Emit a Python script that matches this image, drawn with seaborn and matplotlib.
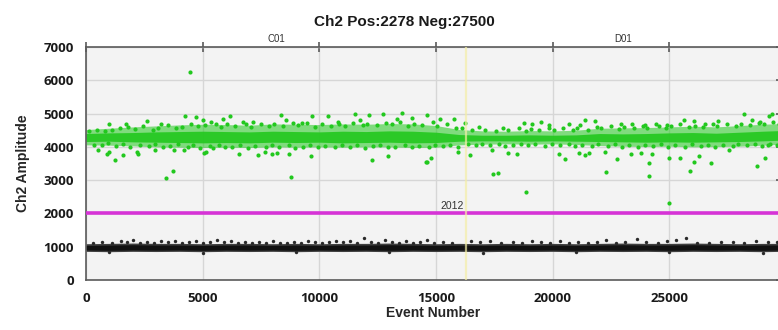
import numpy as np
import pandas as pd
import matplotlib
matplotlib.use("Agg")
import matplotlib.pyplot as plt
import seaborn as sns

# ---------------- data ----------------
title_text = "Ch2 Pos:2278 Neg:27500"
n_pos, n_neg = 2278, 27500
threshold = 2012
well_names = ["C01", "D01"]
well_boundary = 16290
x_ticks = [0, 5000, 10000, 15000, 20000, 25000]
y_ticks = [0, 1000, 2000, 3000, 4000, 5000, 6000, 7000]

# spread of the two droplet clusters (envelopes read every 1000 events)
core_event = [0, 1000, 2000, 3000, 4000, 5000, 6000, 7000, 8000, 9000, 10000,
              11000, 12000, 13000, 14000, 15000, 16000, 17000, 18000, 19000, 20000,
              21000, 22000, 23000, 24000, 25000, 26000, 27000, 28000, 29000, 29778]
pos_outer_low = [4060, 4050, 4030, 4000, 3990, 3980, 3990, 3980, 4000, 3990, 4000,
                 3990, 4000, 4000, 3980, 3990, 4060, 4080, 4090, 4080, 4090,
                 4070, 4040, 4020, 4010, 4020, 4000, 4010, 4020, 4050, 4080]
pos_outer_high = [4520, 4560, 4600, 4630, 4660, 4680, 4670, 4650, 4690, 4680, 4670,
                  4690, 4680, 4700, 4690, 4640, 4520, 4480, 4470, 4490, 4480,
                  4500, 4560, 4570, 4580, 4600, 4620, 4600, 4640, 4680, 4700]
pos_core_low = [4160, 4170, 4150, 4140, 4130, 4120, 4130, 4120, 4140, 4130, 4140,
                4120, 4130, 4140, 4120, 4130, 4170, 4180, 4180, 4170, 4180,
                4170, 4160, 4150, 4140, 4150, 4140, 4150, 4160, 4180, 4200]
pos_core_high = [4400, 4420, 4430, 4450, 4460, 4470, 4460, 4450, 4470, 4460, 4450,
                 4470, 4460, 4480, 4470, 4440, 4370, 4350, 4350, 4360, 4350,
                 4360, 4400, 4390, 4400, 4420, 4430, 4410, 4440, 4470, 4490]
neg_core_low = [860, 850, 860, 855, 860, 850, 860, 855, 860, 850, 860,
                855, 860, 850, 860, 855, 860, 850, 860, 855, 860,
                850, 860, 855, 860, 850, 860, 855, 860, 850, 860]
neg_core_high = [1090, 1100, 1110, 1100, 1100, 1090, 1100, 1100, 1090, 1100, 1090,
                 1100, 1100, 1110, 1100, 1090, 1100, 1090, 1100, 1090, 1100,
                 1090, 1100, 1110, 1100, 1100, 1110, 1100, 1090, 1100, 1100]

# individually visible positive droplets (event, amplitude)
pos_event = [4450, 3430, 3720, 8790, 1240, 12260, 14620, 17450, 17650, 18870, 22280,
             24140, 24120, 24960, 25900, 26070, 26800, 28770,
             530, 890, 990, 1570, 2190, 2210, 2970, 3760, 4220, 5050, 5150, 5430, 6550, 7360,
             7650, 7960, 8180, 8680, 9650, 12960, 14580, 14780,
             15940, 16440, 17400, 18080, 18470, 20250, 20510, 21140, 21400, 21560, 22250,
             22750, 23330, 23800, 24230, 24970, 25470, 26260, 27540, 29090, 29210,
             1000, 1720, 2600, 3220, 4250, 4720, 5000, 5360, 5860, 6170, 6720, 7150,
             8350, 8580, 9250, 9680, 10390, 10780, 11510, 11750, 12110, 12720, 13320, 13560, 13970, 14610,
             15180, 15750, 16250, 18750, 19110, 19510, 19820, 20680, 21180, 21370, 21830,
             22940, 23400, 23940, 24430, 24900, 25610, 26040, 26540, 27090, 28190, 28540, 28860, 29260, 29400,
             120, 350, 480, 700, 820, 950, 1120, 1300, 1450, 1600, 1800, 1900,
             2080, 2300, 2450, 2700, 2850, 2950, 3100, 3300, 3500, 3600, 3850, 3950,
             4100, 4350, 4500, 4600, 4800, 4900, 5100, 5300, 5550, 5700, 5800, 5950,
             6050, 6250, 6400, 6600, 6850, 6950, 7050, 7250, 7500, 7700, 7850, 7950,
             8050, 8250, 8450, 8700, 8850, 8950, 9100, 9300, 9450, 9600, 9800, 9950,
             10100, 10250, 10500, 10650, 10850, 10950, 11100, 11300, 11450, 11600, 11850, 11950,
             12050, 12300, 12450, 12600, 12850, 12950, 13100, 13250, 13450, 13650, 13800, 13950,
             14050, 14250, 14400, 14700, 14850, 14950, 15050, 15300, 15450, 15600, 15850, 15950,
             16100, 16350, 16550, 16700, 16850, 16950, 17100, 17300, 17550, 17700, 17850, 17950,
             18100, 18300, 18550, 18650, 18850, 18950, 19050, 19250, 19400, 19650, 19850, 19950,
             20050, 20300, 20450, 20700, 20850, 20950, 21050, 21250, 21500, 21700, 21900, 21950,
             22050, 22350, 22500, 22650, 22850, 22950, 23050, 23250, 23500, 23650, 23850, 23950,
             24050, 24300, 24550, 24650, 24850, 24950, 25050, 25250, 25450, 25650, 25850, 25950,
             26100, 26350, 26450, 26650, 26850, 26950, 27050, 27300, 27450, 27700, 27850, 27950,
             28050, 28300, 28450, 28650, 28850, 28950, 29050, 29300, 29450, 29600, 29700]
pos_amp = [6250, 3070, 3270, 3090, 3600, 3620, 3540, 3180, 3210, 2640, 3240,
           3510, 3120, 2310, 3270, 3560, 3510, 3420,
           3900, 3800, 3840, 3750, 3850, 3800, 3920, 3900, 3900, 3820, 3850, 3970, 3800, 3750,
           3850, 3780, 3820, 3800, 3720, 3720, 3550, 3680,
           3850, 3750, 3920, 3820, 3800, 3780, 3650, 3820, 3750, 3820, 3850,
           3650, 3800, 3820, 3800, 3680, 3680, 3720, 3900, 3680, 4050,
           4680, 4680, 4780, 4700, 4920, 4900, 4800, 4750, 4850, 4920, 4750, 4750,
           4950, 4800, 4720, 4920, 4920, 4750, 4980, 4800, 4950, 4980, 4850, 5020, 4880, 4950,
           4850, 4850, 4720, 4720, 4680, 4750, 4650, 4680, 4650, 4800, 4780,
           4700, 4680, 4650, 4680, 4650, 4820, 4780, 4680, 4780, 4980, 4800, 4750, 4920, 4980,
           4480, 4060, 4520, 4050, 4470, 4110, 4520, 4030, 4560, 4080, 4600, 4000,
           4550, 4050, 4620, 4020, 4500, 4090, 4580, 4000, 4650, 4040, 4560, 4100,
           4600, 4000, 4700, 4060, 4620, 3980, 4650, 4020, 4700, 4050, 4600, 3990,
           4680, 4000, 4620, 4060, 4700, 3980, 4600, 4030, 4680, 3990, 4640, 4070,
           4700, 4010, 4620, 4050, 4720, 3980, 4650, 4000, 4720, 4060, 4600, 4010,
           4680, 4040, 4620, 3990, 4700, 4060, 4640, 4000, 4720, 4050, 4660, 3980,
           4700, 4020, 4650, 4060, 4720, 3990, 4680, 4000, 4740, 4060, 4620, 4010,
           4700, 4030, 4660, 3990, 4740, 4050, 4620, 4020, 4700, 4060, 4560, 4000,
           4560, 4080, 4520, 4050, 4600, 4100, 4520, 4060, 4480, 4090, 4560, 4040,
           4500, 4070, 4560, 4100, 4480, 4050, 4540, 4080, 4500, 4040, 4560, 4100,
           4500, 4060, 4580, 4090, 4520, 4030, 4560, 4070, 4520, 4040, 4600, 4090,
           4560, 4030, 4620, 4080, 4540, 4000, 4600, 4050, 4560, 4010, 4620, 4070,
           4560, 4030, 4620, 4080, 4580, 4000, 4620, 4050, 4680, 4010, 4600, 4080,
           4640, 4030, 4600, 4060, 4700, 4000, 4620, 4070, 4680, 4030, 4640, 4090,
           4700, 4060, 4660, 4100, 4720, 4040, 4680, 4100, 4760, 4060, 4700]

# individually visible negative droplets at the fuzzy edges of the dense band
neg_event = [300, 700, 1100, 1500, 1750, 2000, 2300, 2600, 2900, 3200, 3500, 3800, 4100, 4400,
             4700, 5000, 5300, 5600, 5900, 6200, 6500, 6800, 7100, 7400, 7700, 8000, 8300,
             8600, 8900, 9200, 9500, 9800, 10100, 10400, 10700, 11000, 11300, 11600, 11900,
             12200, 12500, 12800, 13100, 13400, 13700, 14000, 14300, 14600, 14900, 15300,
             15700, 16500, 16900, 17300, 17800, 18300, 18700, 19100, 19500, 19900, 20300,
             20700, 21100, 21500, 21900, 22300, 22700, 23100, 23600, 24000, 24500, 24900,
             25300, 25700, 26200, 26700, 27200, 27700, 28200, 28700, 29200, 29600,
             1000, 5000, 9000, 13000, 17000, 21000, 25000, 29000]
neg_amp = [1120, 1140, 1110, 1160, 1130, 1190, 1120, 1150, 1110, 1170, 1130, 1160, 1110, 1140,
           1180, 1120, 1150, 1210, 1130, 1160, 1110, 1140, 1120, 1150, 1110, 1160, 1120,
           1100, 1140, 1110, 1160, 1130, 1120, 1150, 1180, 1130, 1170, 1110, 1250,
           1150, 1120, 1190, 1130, 1110, 1160, 1120, 1140, 1210, 1120, 1140,
           1110, 1160, 1130, 1170, 1120, 1150, 1110, 1160, 1140, 1120, 1160,
           1110, 1130, 1120, 1150, 1190, 1120, 1140, 1220, 1130, 1120, 1160,
           1200, 1260, 1120, 1110, 1130, 1150, 1120, 1160, 1140, 1130,
           830, 820, 840, 830, 820, 840, 830, 820]

pos_df = pd.DataFrame({"Event Number": pos_event, "Ch2 Amplitude": pos_amp})
neg_df = pd.DataFrame({"Event Number": neg_event, "Ch2 Amplitude": neg_amp})

# ---------------- style ----------------
sns.set_theme(style="white")
plt.rcParams["font.family"] = ["Liberation Sans", "DejaVu Sans"]

GREEN = "#22c81e"
BLACK = "#1e1e1e"
total_events = n_pos + n_neg

fig = plt.figure(figsize=(7.78, 3.30), dpi=100)
ax = fig.add_axes([86 / 778, 50 / 330, 695 / 778, 233 / 330])
ax.set_facecolor("#f3f3f3")

ax.set_xlim(0, total_events)
ax.set_ylim(0, 7000)
ax.set_xticks(x_ticks)
ax.set_yticks(y_ticks)
ax.grid(True, color="#d6d6d6", linewidth=1.0)
ax.set_axisbelow(True)

# negative cluster
ax.fill_between(core_event, neg_core_low, neg_core_high, color="#404040", linewidth=0, zorder=2)
ax.fill_between(core_event, [v + 40 for v in neg_core_low], [v - 50 for v in neg_core_high],
                color="#111111", linewidth=0, zorder=2)
sns.scatterplot(data=neg_df, x="Event Number", y="Ch2 Amplitude", ax=ax, color="#2a2a2a",
                s=6, linewidth=0, zorder=3, legend=False)

# positive cluster
ax.fill_between(core_event, pos_outer_low, pos_outer_high, color=GREEN, alpha=0.55,
                linewidth=0, zorder=2)
ax.fill_between(core_event, pos_core_low, pos_core_high, color=GREEN, alpha=0.9,
                linewidth=0, zorder=2)
sns.scatterplot(data=pos_df, x="Event Number", y="Ch2 Amplitude", ax=ax, color=GREEN,
                s=9, linewidth=0, zorder=3, legend=False)

# threshold
ax.axhline(threshold, color="#d633d6", linewidth=2.6, zorder=4)
ax.text(15700, threshold + 60, str(threshold), ha="center", va="bottom",
        fontsize=7.5, color="#333333", zorder=5)

# well boundary
ax.axvline(well_boundary, color="#f3eea6", linewidth=1.6, alpha=0.7, zorder=5)
ax.text(well_boundary / 2, 7080, well_names[0], ha="center", va="bottom", fontsize=7,
        color="#333333")
ax.text((well_boundary + total_events) / 2, 7080, well_names[1], ha="center", va="bottom",
        fontsize=7, color="#333333")

# axes decorations
for sp in ax.spines.values():
    sp.set_color("#5a5a5a")
    sp.set_linewidth(1.2)
ax.tick_params(axis="both", which="both", direction="inout", length=7, width=1.2,
               color="#5a5a5a", top=True, right=True, labelsize=9.5, labelcolor="#1a1a1a",
               pad=5)
for lab in ax.get_xticklabels() + ax.get_yticklabels():
    lab.set_fontweight("bold")
    lab.set_family(["Open Sans", "DejaVu Sans"])

ax.set_xlabel("Event Number", fontsize=10, fontweight="bold", labelpad=1)
ax.set_ylabel("Ch2 Amplitude", fontsize=10, fontweight="bold", labelpad=10)
fig.text(404 / 778, 1 - 22 / 330, title_text, ha="center", va="center", fontsize=11,
         fontweight="bold", color="#1a1a1a")

fig.savefig("out.png", dpi=100, facecolor="white")
